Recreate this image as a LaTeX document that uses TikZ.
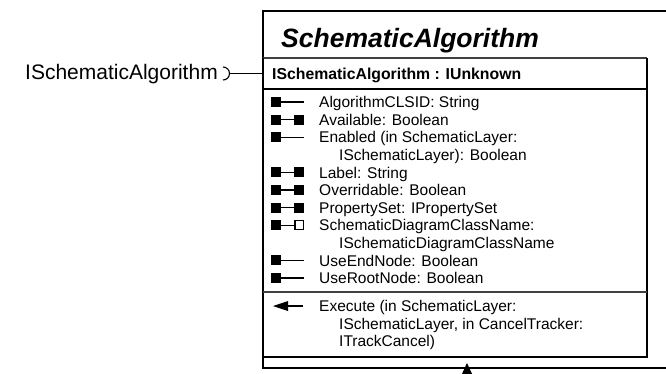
\documentclass[tikz,border=0pt]{standalone}
\usepackage{fontspec}
\setmainfont{Liberation Sans}
\usetikzlibrary{arrows.meta}
\tikzset{
  thickedge/.style={line width=1.8pt, black},
  thinedge/.style={line width=1.2pt, black!75},
  attr/.style={anchor=base west, inner sep=0pt, font=\fontsize{15.5}{17}\selectfont},
  titletext/.style={anchor=base west, inner sep=0pt, font=\fontsize{26.5}{30}\selectfont\bfseries\itshape},
  hdrtext/.style={anchor=base west, inner sep=0pt, font=\fontsize{15.8}{18}\selectfont\bfseries},
  lbltext/.style={anchor=base west, inner sep=0pt, font=\fontsize{21}{24}\selectfont},
  sq/.style={fill=black},
  osq/.style={draw=black, line width=1.2pt, fill=white},
  icoline/.style={line width=1.3pt, black},
}
\begin{document}
\begin{tikzpicture}[x=1pt, y=-1pt]
\useasboundingbox (0,0) rectangle (666,373);
\clip (0,0) rectangle (666,373);
% outer box (extends past right edge)
\draw[thickedge] (700,11) -- (263,11) -- (263,368) -- (700,368);
% inner box
\draw[thinedge] (263,58) -- (647,58);
\draw[thickedge] (263,58) -- (263,357) -- (647,357) -- (647,58);
\draw[thickedge] (263,89) -- (647,89);
\draw[thinedge] (263,292) -- (647,292);
% title
\node[titletext] (title) at (281,47) {SchematicAlgorithm};
% header
\node[hdrtext] (hdr) at (272,79) {ISchematicAlgorithm : IUnknown};
% lollipop
\node[lbltext] (lbl) at (25,79) {ISchematicAlgorithm};
\coordinate (lolA) at (229,73.5);
\coordinate (boxL) at (263,73.5);
\draw[line width=1.1pt] (223,67) arc[start angle=-90, end angle=90, radius=6.5];
\draw[line width=1.1pt] (lolA) -- (boxL);
% attribute icons
\foreach \yy in {102,137.2,260.4,278} {
  \fill[sq] (271,\yy-5) rectangle (281,\yy+5);
  \draw[icoline] (281,\yy) -- (304,\yy);
}
\foreach \yy in {119.6,172.4,190,207.6} {
  \fill[sq] (271,\yy-5) rectangle (281,\yy+5);
  \draw[icoline] (281,\yy) -- (294,\yy);
  \fill[sq] (294,\yy-5) rectangle (304,\yy+5);
}
\fill[sq] (271,225.2-5) rectangle (281,225.2+5);
\draw[icoline] (281,225.2) -- (294.5,225.2);
\draw[osq] (295,225.2-4.4) rectangle (303.4,225.2+4.4);
% method icon
\draw[line width=1.4pt] (286,306) -- (303,306);
\fill (273,306) -- (288,301) -- (288,311) -- cycle;
% attribute texts
\node[attr] (a1) at (319,107.6) {AlgorithmCLSID: String};
\node[attr] (a2) at (319,125.2) {Available: Boolean};
\node[attr] (a3) at (319,142.8) {Enabled (in SchematicLayer:};
\node[attr] (a3b) at (339,160.4) {ISchematicLayer): Boolean};
\node[attr] (a4) at (319,178.0) {Label: String};
\node[attr] (a5) at (319,195.6) {Overridable: Boolean};
\node[attr] (a6) at (319,213.2) {PropertySet: IPropertySet};
\node[attr] (a7) at (319,230.8) {SchematicDiagramClassName:};
\node[attr] (a7b) at (339,248.4) {ISchematicDiagramClassName};
\node[attr] (a8) at (319,266.0) {UseEndNode: Boolean};
\node[attr] (a9) at (319,283.6) {UseRootNode: Boolean};
% method texts
\node[attr] (m1) at (319,311.6) {Execute (in SchematicLayer:};
\node[attr] (m1b) at (339,329.2) {ISchematicLayer, in CancelTracker:};
\node[attr] (m1c) at (339,346.8) {ITrackCancel)};
% bottom arrowhead (connector from below, cut by the frame)
\fill (467,363) -- (461,376) -- (473,376) -- cycle;
\end{tikzpicture}
\end{document}
